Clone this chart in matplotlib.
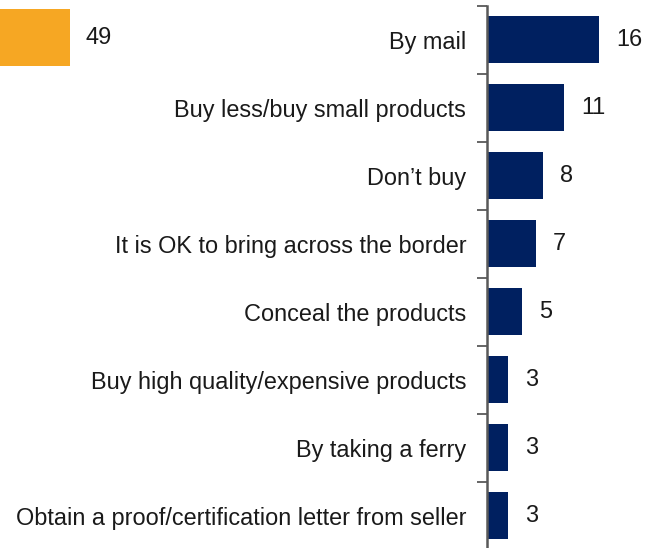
import matplotlib
matplotlib.use('Agg')
import matplotlib.pyplot as plt

plt.rcParams['font.family'] = ['Liberation Sans', 'DejaVu Sans']

# ways to get around the rule (percent)
categories = ['By mail',
              'Buy less/buy small products',
              'Don\u2019t buy',
              'It is OK to bring across the border',
              'Conceal the products',
              'Buy high quality/expensive products',
              'By taking a ferry',
              'Obtain a proof/certification letter from seller']
values = [16, 11, 8, 7, 5, 3, 3, 3]

# cut-off bar from the neighbouring panel
side_value = 49

navy = '#002060'
orange = '#F6A723'
grey = '#595959'
txt = '#1a1a1a'
fs = 16.9

W, H = 654, 548
fig = plt.figure(figsize=(W / 100, H / 100), dpi=100)

# main axes: spine at x=487, 7 px per unit, rows 68 px apart starting at y=5.5
left = 487
top = 5.5
rows = len(categories)
ax = fig.add_axes([left / W, (H - top - rows * 68) / H, (W - left) / W, rows * 68 / H])
ypos = list(range(rows))
ax.barh(ypos, values, height=0.69, color=navy)
ax.set_xlim(0, (W - left) / 7)
ax.set_ylim(rows - 0.5, -0.5)
for y, v in zip(ypos, values):
    ax.text(v + 17 / 7, y, str(v), va='center', ha='left', fontsize=fs, color=txt)

ax.set_yticks([i - 0.5 for i in range(rows + 1)])
ax.set_yticklabels([])
ax.tick_params(axis='y', which='major', length=7, width=1.3, color=grey, direction='out')
ax.set_yticks(ypos, minor=True)
ax.set_yticklabels(categories, minor=True, fontsize=fs, color=txt)
ax.tick_params(axis='y', which='minor', length=0, pad=15)
ax.set_xticks([])
for s in ['top', 'right', 'bottom']:
    ax.spines[s].set_visible(False)
ax.spines['left'].set_color(grey)
ax.spines['left'].set_linewidth(1.8)

# orange bar: same scale, ends at x=70
bar_end = 70
ax2_left = bar_end - side_value * 7
ax2 = fig.add_axes([ax2_left / W, (H - 66) / H, side_value * 7 / W, 57 / H])
ax2.barh([0], [side_value], height=1.0, color=orange)
ax2.set_xlim(0, side_value)
ax2.set_ylim(-0.5, 0.5)
ax2.axis('off')
fig.text(86 / W, (H - 38) / H, str(side_value), va='center', ha='left', fontsize=fs, color=txt)

fig.savefig('out.png', dpi=100)
